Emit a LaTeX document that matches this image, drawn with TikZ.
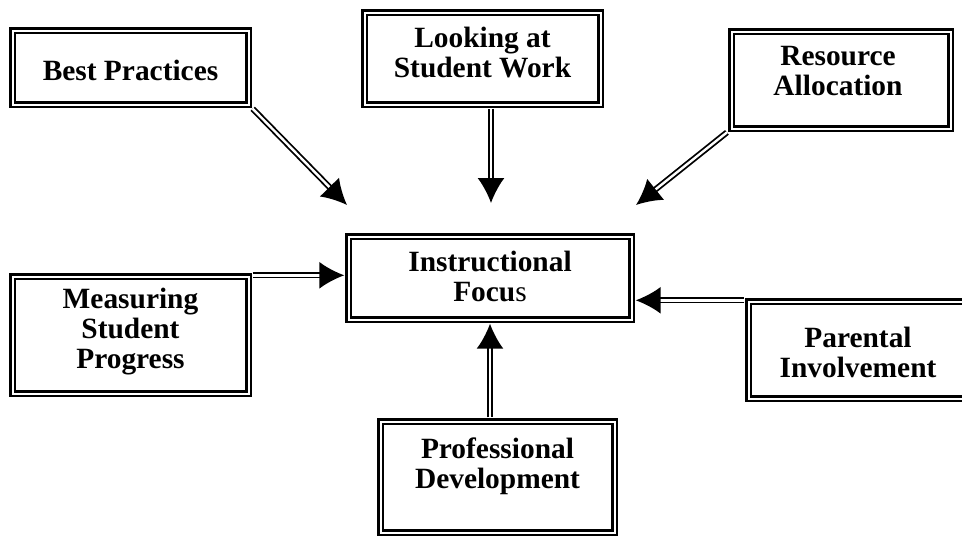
\documentclass[tikz,border=0pt]{standalone}
\usepackage{fontspec}
\setmainfont{Liberation Serif}
\usetikzlibrary{arrows.meta}
\usetikzlibrary{calc}
\tikzset{>=latex}
\tikzset{frame/.style = {draw,double,line width=2.4pt,double distance=2pt,inner sep=0pt}}
\tikzset{boxtext/.style = {align=center,inner sep=0pt,font=\fontsize{29.4}{30}\selectfont\bfseries}}
\tikzset{link/.style = {double,line width=1.8pt,double distance=2.4pt,-{Latex[length=25pt,width=27pt]}}}

\begin{document}
\begin{tikzpicture}[x=1pt,y=-1pt]
                \useasboundingbox (0,0) rectangle (962,536);
                \clip (0,0) rectangle (962,536);

                \node[frame,minimum width=236pt,minimum height=74pt] (bp) at (130.5,67.5) {};
                \node[frame,minimum width=236pt,minimum height=92pt] (lsw) at (482.5,58.5) {};
                \node[frame,minimum width=219pt,minimum height=97pt] (ra) at (841,80) {};
                \node[frame,minimum width=283pt,minimum height=83pt] (if) at (490,278) {};
                \node[frame,minimum width=236pt,minimum height=117pt] (msp) at (130.5,335) {};
                \node[frame,minimum width=219pt,minimum height=97pt] (pi) at (858,350) {};
                \node[frame,minimum width=234pt,minimum height=111pt] (pd) at (497.5,477) {};

                \node[boxtext] (bpt) at ([yshift=-2.5pt]bp.center) {Best Practices};
                \node[boxtext] (lswt) at ([yshift=6pt]lsw.center) {Looking at\\Student Work};
                \node[boxtext] (rat) at ([xshift=-3pt,yshift=9pt]ra.center) {Resource\\Allocation};
                \node[boxtext] (ift) at ([yshift=2pt]if.center) {Instructional\\Focu{\mdseries s}};
                \node[boxtext] (mspt) at ([yshift=3pt]msp.center) {Measuring\\Student\\Progress};
                \node[boxtext] (pit) at ([yshift=-2.5pt]pi.center) {Parental\\Involvement};
                \node[boxtext] (pdt) at ([yshift=11pt]pd.center) {Professional\\Development};

                \coordinate (bpend) at (347,205);
                \coordinate (lswend) at (491,203);
                \coordinate (raend) at (636,205);

                \draw[link,shorten <=4.3pt] (bp.south east) -- (bpend);
                \draw[link,shorten <=3pt] ([xshift=8.5pt]lsw.south) -- (lswend);
                \draw[link,shorten <=4.3pt] (ra.south west) -- (raend);
                \draw[link,shorten <=3pt,shorten >=3pt] (msp.north east) -- (msp.north east -| if.west);
                \draw[link,shorten <=3pt,shorten >=3pt] (pi.north west) -- (pi.north west -| if.east);
                \draw[link,shorten <=3pt,shorten >=3pt] ([xshift=-7.5pt]pd.north) -- ([xshift=-7.5pt]pd.north |- if.south);
            \end{tikzpicture}
\end{document}
